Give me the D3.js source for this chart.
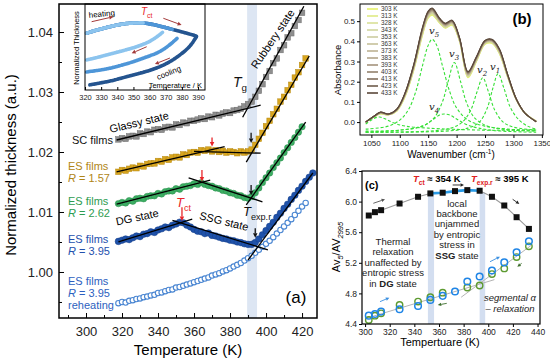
<!DOCTYPE html>
<html>
<head>
<meta charset="utf-8">
<script src="https://cdn.jsdelivr.net/npm/d3@7"></script>
<style>
body { margin: 0; background: #fff; }
svg { display: block; font-family: "Liberation Sans", Arial, sans-serif; }
</style>
</head>
<body>
<svg width="550" height="359"></svg>
<script>
// ----- panel (a): normalized thickness vs temperature -----
const tempA = [318,320,322,324,326,328,330,332,334,336,338,340,342,344,346,348,350,352,354,356,358,360,362,364,366,368,370,372,374,376,378,380,382,384,386,388,390,392,394,396,398,400,402,404,406,408,410,412,414,416,418,420,422,424,426];
const scFilms = [1.0221,1.0223,1.0222,1.0226,1.0227,1.0226,1.0231,1.0230,1.0234,1.0233,1.0237,1.0238,1.0237,1.0241,1.0242,1.0241,1.0246,1.0245,1.0249,1.0248,1.0252,1.0252,1.0254,1.0256,1.0255,1.0259,1.0258,1.0262,1.0261,1.0264,1.0266,1.0265,1.0269,1.0270,1.0272,1.0276,1.0280,1.0284,1.0292,1.0302,1.0313,1.0325,1.0335,1.0348,1.0356,1.0370,1.0378,1.0391,1.0398,1.0410,1.0420,1.0432,null,null,null];
const es157 = [1.0167,1.0170,1.0169,1.0172,1.0174,1.0173,1.0177,1.0176,1.0180,1.0181,1.0181,1.0185,1.0184,1.0188,1.0187,1.0191,1.0192,1.0191,1.0196,1.0195,1.0199,1.0200,1.0199,1.0203,1.0202,1.0204,1.0201,1.0203,1.0200,1.0202,1.0199,1.0201,1.0200,1.0198,1.0201,1.0199,1.0201,1.0204,1.0212,1.0222,1.0232,1.0243,1.0252,1.0263,1.0272,1.0284,1.0292,1.0303,1.0312,1.0324,1.0333,1.0345,1.0356,null,null];
const es262 = [1.0114,1.0116,1.0115,1.0119,1.0118,1.0122,1.0123,1.0122,1.0126,1.0127,1.0127,1.0131,1.0130,1.0134,1.0135,1.0135,1.0139,1.0138,1.0142,1.0143,1.0144,1.0147,1.0146,1.0149,1.0146,1.0144,1.0143,1.0140,1.0139,1.0136,1.0135,1.0132,1.0131,1.0128,1.0127,1.0124,1.0123,1.0126,1.0132,1.0140,1.0149,1.0157,1.0165,1.0174,1.0182,1.0190,1.0199,1.0207,1.0216,1.0224,1.0233,1.0242,null,null,null];
const es395 = [1.0051,1.0053,1.0055,1.0054,1.0057,1.0060,1.0059,1.0063,1.0064,1.0067,1.0066,1.0070,1.0072,1.0075,1.0074,1.0078,1.0080,1.0083,1.0082,1.0078,1.0075,1.0071,1.0068,1.0067,1.0064,1.0065,1.0061,1.0060,1.0058,1.0056,1.0055,1.0053,1.0052,1.0050,1.0049,1.0047,1.0046,1.0046,1.0049,1.0055,1.0062,1.0069,1.0076,1.0083,1.0091,1.0098,1.0106,1.0113,1.0121,1.0128,1.0136,1.0143,1.0151,1.0158,1.0165];
const es395re = [0.9948,0.9950,0.9949,0.9952,0.9953,0.9955,0.9956,0.9958,0.9959,0.9961,0.9962,0.9965,0.9966,0.9968,0.9970,0.9971,0.9974,0.9975,0.9977,0.9979,0.9981,0.9983,0.9985,0.9987,0.9989,0.9991,0.9994,0.9996,0.9998,1.0001,1.0003,1.0006,1.0009,1.0012,1.0015,1.0019,1.0023,1.0027,1.0032,1.0037,1.0042,1.0047,1.0052,1.0058,1.0064,1.0070,1.0076,1.0082,1.0088,1.0095,1.0102,1.0109,1.0115,null,null];
// fit lines [T1, y1, T2, y2]
const fitA = [
  [317,1.0220,397,1.0278],[387,1.0258,421,1.0443],
  [317,1.0167,377,1.0209],[360,1.0201,397,1.0198],[389,1.0183,424,1.0360],
  [317,1.0113,369,1.0153],[357,1.0157,398,1.0117],[389,1.0112,422,1.0250],
  [318,1.0050,359,1.0088],[348,1.0086,401,1.0037],[390,1.0020,426,1.0165]
];
const bandA = [389.5, 395];
const ticksXA = [300,320,340,360,380,400,420];
const ticksYA = [1.00,1.01,1.02,1.03,1.04];
const redArrowsA = [[370,1.0224,370,1.0209],[364.4,1.0170,364.4,1.0151],[353.3,1.0108,353.3,1.0085]];
const blackArrowsA = [[391.7,1.0232,391.7,1.0215],[391.7,1.0145,391.7,1.0128],[394,1.0073,394,1.0057]];

// inset
const insetHeatT = [321,326,332,338,344,350,356,362,368,374,380,386,389];
const insetHeatY = [0.66,0.69,0.72,0.75,0.77,0.78,0.78,0.765,0.735,0.705,0.675,0.645,0.625];
const insetCoolLightT = [368,362,356,350,344,338,332,326,321];
const insetCoolLightY = [0.67,0.58,0.53,0.49,0.46,0.43,0.40,0.37,0.35];
const insetCoolMidT = [377,371,365,359,353,347,341,335,329,321];
const insetCoolMidY = [0.60,0.50,0.43,0.39,0.35,0.31,0.28,0.25,0.23,0.21];
const insetCoolDarkT = [389,386,383,377,371,365,359,353,347,341,335,329,323];
const insetCoolDarkY = [0.62,0.53,0.47,0.38,0.31,0.26,0.22,0.19,0.16,0.13,0.10,0.08,0.06];
const ticksInset = [320,330,340,350,360,370,380,390];

// ----- panel (b): FTIR spectra -----
const waveB = [1040,1055,1066,1080,1095,1110,1125,1140,1150,1157,1170,1180,1192,1205,1220,1235,1250,1262,1275,1290,1305,1320,1340];
const tempLabelsB = ["303 K","313 K","328 K","343 K","353 K","363 K","373 K","383 K","393 K","403 K","413 K","423 K","433 K"];
const colorsB = ["#e6f26c","#dfea84","#d8e096","#d1d69e","#cccca0","#c6c09a","#bdb292","#b2a488","#a4937c","#93816d","#816e5d","#6e5c4c","#5a483a"];
const spectraB = [
  [0.000,0.025,0.040,0.035,0.055,0.130,0.260,0.430,0.515,0.530,0.490,0.465,0.480,0.400,0.220,0.300,0.385,0.390,0.340,0.220,0.110,0.045,0.005],
  [0.000,0.025,0.041,0.035,0.056,0.132,0.263,0.434,0.518,0.533,0.492,0.467,0.482,0.402,0.223,0.302,0.387,0.392,0.342,0.221,0.110,0.045,0.005],
  [0.000,0.026,0.042,0.036,0.057,0.134,0.266,0.437,0.521,0.536,0.494,0.469,0.484,0.404,0.225,0.304,0.389,0.394,0.344,0.223,0.111,0.045,0.004],
  [0.000,0.026,0.043,0.036,0.058,0.136,0.268,0.440,0.524,0.539,0.497,0.471,0.486,0.406,0.228,0.306,0.391,0.396,0.347,0.224,0.111,0.045,0.004],
  [0.000,0.027,0.044,0.037,0.059,0.138,0.271,0.443,0.527,0.542,0.499,0.473,0.488,0.407,0.230,0.308,0.392,0.398,0.349,0.225,0.112,0.045,0.004],
  [0.000,0.027,0.045,0.037,0.060,0.140,0.274,0.447,0.530,0.545,0.501,0.476,0.491,0.409,0.233,0.310,0.394,0.400,0.351,0.227,0.112,0.045,0.004],
  [0.000,0.028,0.045,0.038,0.060,0.141,0.276,0.450,0.533,0.548,0.503,0.478,0.493,0.410,0.235,0.312,0.395,0.401,0.353,0.228,0.113,0.045,0.003],
  [0.000,0.028,0.046,0.038,0.061,0.143,0.279,0.454,0.536,0.551,0.505,0.480,0.495,0.412,0.238,0.315,0.397,0.403,0.355,0.229,0.113,0.045,0.003],
  [0.000,0.029,0.047,0.038,0.062,0.144,0.281,0.457,0.539,0.554,0.507,0.482,0.497,0.414,0.240,0.317,0.399,0.404,0.357,0.230,0.114,0.045,0.003],
  [0.000,0.029,0.048,0.039,0.063,0.146,0.284,0.461,0.542,0.557,0.509,0.484,0.499,0.415,0.243,0.319,0.400,0.406,0.359,0.232,0.114,0.045,0.003],
  [0.000,0.029,0.048,0.039,0.064,0.147,0.286,0.464,0.545,0.560,0.511,0.486,0.501,0.417,0.245,0.321,0.402,0.407,0.361,0.233,0.114,0.045,0.002],
  [0.000,0.030,0.049,0.040,0.064,0.149,0.288,0.467,0.548,0.563,0.513,0.488,0.503,0.418,0.248,0.323,0.404,0.409,0.363,0.234,0.115,0.045,0.002],
  [0.000,0.030,0.050,0.040,0.065,0.150,0.290,0.470,0.550,0.565,0.515,0.490,0.505,0.420,0.250,0.325,0.405,0.410,0.365,0.235,0.115,0.045,0.002]
];
// fitted components [wavenumber, absorbance]
const peakV0 = [[1040,-0.01],[1050,0.01],[1058,0.022],[1065,0.025],[1075,0.015],[1090,-0.005],[1110,-0.02],[1150,-0.03],[1250,-0.04],[1340,-0.04]];
const peakV5 = [[1040,-0.035],[1080,-0.02],[1100,0.01],[1115,0.06],[1128,0.15],[1140,0.28],[1150,0.38],[1157,0.41],[1165,0.38],[1175,0.28],[1188,0.15],[1200,0.07],[1220,0.01],[1250,-0.02],[1290,-0.035],[1340,-0.04]];
const peakV4 = [[1040,-0.05],[1100,-0.04],[1140,-0.02],[1160,0.015],[1170,0.035],[1178,0.04],[1188,0.035],[1200,0.015],[1220,-0.015],[1260,-0.04],[1340,-0.05]];
const peakV3 = [[1040,-0.045],[1100,-0.04],[1140,-0.02],[1160,0.02],[1175,0.10],[1185,0.20],[1196,0.295],[1207,0.20],[1217,0.10],[1232,0.02],[1260,-0.025],[1340,-0.045]];
const peakV2 = [[1040,-0.05],[1150,-0.045],[1190,-0.03],[1210,0.0],[1225,0.06],[1236,0.15],[1246,0.22],[1256,0.15],[1267,0.06],[1282,0.0],[1300,-0.025],[1340,-0.04]];
const peakV1 = [[1040,-0.05],[1180,-0.045],[1220,-0.03],[1240,0.0],[1254,0.07],[1264,0.17],[1273,0.24],[1283,0.17],[1295,0.07],[1310,0.01],[1325,-0.02],[1340,-0.035]];
const ticksXB = [1050,1100,1150,1200,1250,1300,1350];
const ticksYB = [0.0,0.1,0.2,0.3,0.4,0.5];

// ----- panel (c): band ratio -----
const tempC = [303,308,313,328,343,353,363,373,383,393,403,413,423,433];
const ratioBlack = [5.818,5.862,5.888,5.975,6.063,6.107,6.116,6.137,6.150,6.142,6.063,5.949,5.796,5.643];
const ratioBlue = [4.509,4.531,4.562,4.593,4.636,4.715,4.768,4.825,4.956,5.021,5.100,5.205,5.337,5.481];
const ratioGreen = [4.452,4.509,4.540,4.650,4.693,4.750,4.810,null,4.877,4.903,5.052,5.126,5.275,5.415];
const fitC = [[300,4.47,405,4.98],[378,4.75,435,5.43]];
const bandsC = [[351,356],[393,397.5]];
const ticksXC = [300,320,340,360,380,400,420,440];
const ticksYC = [4.4,4.8,5.2,5.6,6.0,6.4];

const svg = d3.select("svg");
const font = '"Liberation Sans", Arial, sans-serif';

function arrow(g, x1, y1, x2, y2, color, w, hl) {
  const a = Math.atan2(y2 - y1, x2 - x1);
  const hw = hl * 0.5;
  const bx = x2 - hl * Math.cos(a), by = y2 - hl * Math.sin(a);
  g.append("line").attr("x1", x1).attr("y1", y1).attr("x2", bx).attr("y2", by)
    .attr("stroke", color).attr("stroke-width", w);
  g.append("path")
    .attr("d", "M" + x2 + "," + y2 + "L" + (bx + hw * Math.sin(a)) + "," + (by - hw * Math.cos(a)) +
      "L" + (bx - hw * Math.sin(a)) + "," + (by + hw * Math.cos(a)) + "Z")
    .attr("fill", color);
}

function subText(g, x, y, main, sub, size, color, rest, weight) {
  const t = g.append("text").attr("x", x).attr("y", y).attr("font-size", size).attr("fill", color);
  if (weight) t.attr("font-weight", weight);
  t.append("tspan").attr("font-style", "italic").text(main);
  t.append("tspan").attr("font-size", size * 0.7).attr("dy", size * 0.3).text(sub);
  if (rest) t.append("tspan").attr("dy", -size * 0.3).attr("fill", "#000").text(rest);
  return t;
}

function styleAxis(g, size) {
  g.attr("font-family", font);
  g.select(".domain").remove();
  g.selectAll("text").attr("font-size", size).attr("fill", "#222");
  g.selectAll("line").attr("stroke", "#000");
}

// ================= panel (a) =================
const xA = d3.scaleLinear().domain([285, 428.3]).range([59, 317]);
const yA = d3.scaleLinear().domain([0.99233, 1.04467]).range([318, 4]);
const gA = svg.append("g");

gA.append("rect").attr("x", xA(bandA[0])).attr("y", 4)
  .attr("width", xA(bandA[1]) - xA(bandA[0])).attr("height", 314).attr("fill", "#dde6f3");

function drawSeries(vals, shape, fill, stroke, size, sw) {
  const pts = tempA.map((t, i) => [t, vals[i]]).filter(d => d[1] != null);
  if (shape === "square") {
    gA.selectAll(null).data(pts).enter().append("rect")
      .attr("x", d => xA(d[0]) - size / 2).attr("y", d => yA(d[1]) - size / 2)
      .attr("width", size).attr("height", size)
      .attr("fill", fill).attr("stroke", stroke).attr("stroke-width", sw);
  } else {
    gA.selectAll(null).data(pts).enter().append("circle")
      .attr("cx", d => xA(d[0])).attr("cy", d => yA(d[1])).attr("r", size)
      .attr("fill", fill).attr("stroke", stroke).attr("stroke-width", sw);
  }
}
drawSeries(es395re, "circle", "#fff", "#4a86d2", 2.7, 1.1);
drawSeries(es395, "circle", "#1f52aa", "#173f88", 3.3, 0.5);
drawSeries(es262, "circle", "#3cae63", "#2b8f4d", 3.2, 0.5);
drawSeries(es157, "square", "#d8a51f", "#b78a12", 5.6, 0.5);
drawSeries(scFilms, "square", "#8e8e8e", "#6f6f6f", 5.6, 0.5);

gA.selectAll(".fit").data(fitA).enter().append("line").attr("class", "fit")
  .attr("x1", d => xA(d[0])).attr("y1", d => yA(d[1]))
  .attr("x2", d => xA(d[2])).attr("y2", d => yA(d[3]))
  .attr("stroke", "#000").attr("stroke-width", 1.3);

redArrowsA.forEach(d => arrow(gA, xA(d[0]), yA(d[1]), xA(d[2]), yA(d[3]), "#e8262a", 1.3, 4.5));
blackArrowsA.forEach(d => arrow(gA, xA(d[0]), yA(d[1]), xA(d[2]), yA(d[3]), "#111", 1.3, 4.5));

// axes (a)
const axA1 = gA.append("g").attr("transform", "translate(0,318)")
  .call(d3.axisBottom(xA).tickValues(ticksXA).tickSize(-5).tickPadding(9).tickFormat(d3.format("d")));
styleAxis(axA1, 13);
const axA2 = gA.append("g").attr("transform", "translate(0,318)")
  .call(d3.axisBottom(xA).tickValues([290,310,330,350,370,390,410]).tickSize(-3).tickFormat(""));
styleAxis(axA2, 13);
const axA3 = gA.append("g").attr("transform", "translate(59,0)")
  .call(d3.axisLeft(yA).tickValues(ticksYA).tickSize(-5).tickPadding(6).tickFormat(d3.format(".2f")));
styleAxis(axA3, 13);
const axA4 = gA.append("g").attr("transform", "translate(59,0)")
  .call(d3.axisLeft(yA).tickValues([0.995,1.005,1.015,1.025,1.035]).tickSize(-3).tickFormat(""));
styleAxis(axA4, 13);

gA.append("text").attr("x", 188).attr("y", 355).attr("text-anchor", "middle")
  .attr("font-size", 15).text("Temperature (K)");
gA.append("text").attr("transform", "translate(16,165) rotate(-90)").attr("text-anchor", "middle")
  .attr("font-size", 15).text("Normalized thickness (a.u.)");

// series labels
function label(lines, x, yc, color) {
  lines.forEach((s, i) => {
    const t = gA.append("text").attr("x", x).attr("y", yc[i] + 4).attr("font-size", 11).attr("fill", color);
    if (s.startsWith("R")) {
      t.append("tspan").attr("font-style", "italic").text("R");
      t.append("tspan").text(s.slice(1));
    } else t.text(s);
  });
}
label(["SC films"], 72, [140], "#111");
label(["ES films", "R = 1.57"], 68, [166, 178], "#b08516");
label(["ES films", "R = 2.62"], 68, [201, 213], "#2e9c50");
label(["ES films", "R = 3.95"], 68, [239, 251], "#2450ad");
label(["ES films", "R = 3.95", "reheating"], 68, [281, 293, 305], "#2d5fc0");

gA.append("text").attr("transform", "translate(140,126) rotate(-13.5)").attr("text-anchor", "middle")
  .attr("font-size", 11).text("Glassy state");
gA.append("text").attr("transform", "translate(276,41) rotate(-56)").attr("text-anchor", "middle")
  .attr("font-size", 11).text("Rubbery state");
gA.append("text").attr("transform", "translate(138,221) rotate(-12)").attr("text-anchor", "middle")
  .attr("font-size", 11).text("DG state");
gA.append("text").attr("transform", "translate(223,225) rotate(14)").attr("text-anchor", "middle")
  .attr("font-size", 11).text("SSG state");
subText(gA, 233, 87, "T", "g", 14, "#111");
subText(gA, 243, 216, "T", "exp.r", 13, "#111");
subText(gA, 176, 207, "T", "ct", 13, "#e8262a");
gA.append("text").attr("x", 296).attr("y", 303).attr("text-anchor", "middle").attr("font-size", 17).text("(a)");

// inset
const xI = d3.scaleLinear().domain([320, 394.3]).range([85, 205]);
const yI = d3.scaleLinear().domain([0, 1]).range([90, 4]);
const gI = gA.append("g");
gI.append("rect").attr("x", 85).attr("y", 4).attr("width", 120).attr("height", 86).attr("fill", "#fff");
const lineI = d3.line().x(d => xI(d[0])).y(d => yI(d[1])).curve(d3.curveBasis);
function insetPath(ts, ys, n, color) {
  const pts = ts.slice(0, n).map((t, i) => [t, ys[i]]);
  gI.append("path").attr("d", lineI(pts)).attr("fill", "none").attr("stroke", color)
    .attr("stroke-width", 3.6).attr("stroke-linecap", "round").attr("stroke-dasharray", "2.2,0.8");
}
insetPath(insetHeatT, insetHeatY, 13, "#24548f");
insetPath(insetHeatT, insetHeatY, 10, "#4e96d8");
insetPath(insetHeatT, insetHeatY, 7, "#8cc4ee");
insetPath(insetCoolDarkT, insetCoolDarkY, 13, "#24548f");
insetPath(insetCoolMidT, insetCoolMidY, 10, "#4e96d8");
insetPath(insetCoolLightT, insetCoolLightY, 9, "#8cc4ee");
arrow(gI, xI(324.1), yI(0.794), xI(337.5), yI(0.852), "#a33a3a", 1, 4);
arrow(gI, xI(368.5), yI(0.834), xI(379.8), yI(0.756), "#a33a3a", 1, 4);
arrow(gI, xI(358.2), yI(0.503), xI(348.9), yI(0.427), "#a33a3a", 1, 4);
arrow(gI, xI(372.6), yI(0.372), xI(363.3), yI(0.302), "#a33a3a", 1, 4);
gI.append("text").attr("transform", "translate(89,18) rotate(-6)").attr("font-size", 8).text("heating");
subText(gI, 141, 15, "T", "ct", 10, "#e8262a");
gI.append("text").attr("transform", "translate(158,80) rotate(-22)").attr("font-size", 8).text("cooling");
gI.append("text").attr("x", 202).attr("y", 88).attr("text-anchor", "end").attr("font-size", 7.5).text("Temperature / K");
gI.append("text").attr("transform", "translate(79,48) rotate(-90)").attr("text-anchor", "middle")
  .attr("font-size", 7.5).text("Normalized Thickness");
const axI = gI.append("g").attr("transform", "translate(0,90)")
  .call(d3.axisBottom(xI).tickValues(ticksInset).tickSize(-3).tickPadding(5).tickFormat(d3.format("d")));
styleAxis(axI, 7.5);
gI.append("rect").attr("x", 85).attr("y", 4).attr("width", 120).attr("height", 86)
  .attr("fill", "none").attr("stroke", "#000").attr("stroke-width", 1);

gA.append("rect").attr("x", 59).attr("y", 4).attr("width", 258).attr("height", 314)
  .attr("fill", "none").attr("stroke", "#000").attr("stroke-width", 1.5);

// ================= panel (b) =================
const xB = d3.scaleLinear().domain([1030, 1352]).range([360, 543]);
const yB = d3.scaleLinear().domain([-0.064, 0.585]).range([135, 4]);
const gB = svg.append("g");
const lineB = d3.line().x(d => xB(d[0])).y(d => yB(d[1])).curve(d3.curveCatmullRom);

spectraB.forEach((row, k) => {
  gB.append("path").attr("d", lineB(waveB.map((w, i) => [w, row[i]])))
    .attr("fill", "none").attr("stroke", colorsB[k]).attr("stroke-width", 1.1);
});
[peakV0, peakV5, peakV4, peakV3, peakV2, peakV1].forEach(p => {
  gB.append("path").attr("d", lineB(p)).attr("fill", "none").attr("stroke", "#36e036")
    .attr("stroke-width", 1.1).attr("stroke-dasharray", "3,2");
});

tempLabelsB.forEach((s, i) => {
  const y = 9 + i * 7;
  gB.append("line").attr("x1", 367).attr("x2", 378).attr("y1", y).attr("y2", y)
    .attr("stroke", colorsB[i]).attr("stroke-width", 1.6);
  gB.append("text").attr("x", 381).attr("y", y + 2.3).attr("font-size", 6.3).attr("fill", "#333").text(s);
});

function nu(x, y, n) {
  const t = gB.append("text").attr("x", x).attr("y", y).attr("font-size", 10)
    .attr("font-family", '"DejaVu Serif", serif').attr("font-style", "italic").attr("fill", "#222");
  t.append("tspan").text("v");
  t.append("tspan").attr("font-size", 7).attr("dy", 2.5).text(n);
}
nu(429, 34, "5");
nu(449, 57, "3");
nu(477, 73, "2");
nu(490, 70, "1");
nu(429, 110, "4");

const axB1 = gB.append("g").attr("transform", "translate(0,135)")
  .call(d3.axisBottom(xB).tickValues(ticksXB).tickSize(3).tickPadding(2).tickFormat(d3.format("d")));
styleAxis(axB1, 8);
const axB2 = gB.append("g").attr("transform", "translate(360,0)")
  .call(d3.axisLeft(yB).tickValues(ticksYB).tickSize(3).tickPadding(2).tickFormat(d3.format(".1f")));
styleAxis(axB2, 8);
gB.append("rect").attr("x", 360).attr("y", 4).attr("width", 183).attr("height", 131)
  .attr("fill", "none").attr("stroke", "#000").attr("stroke-width", 1);
gB.append("text").attr("transform", "translate(341,70) rotate(-90)").attr("text-anchor", "middle")
  .attr("font-size", 9.5).text("Absorbance");
const wl = gB.append("text").attr("x", 451).attr("y", 158).attr("text-anchor", "middle").attr("font-size", 10);
wl.append("tspan").text("Wavenumber (cm");
wl.append("tspan").attr("font-size", 6.5).attr("dy", -4).text("-1");
wl.append("tspan").attr("dy", 4).text(")");
gB.append("text").attr("x", 522).attr("y", 24).attr("text-anchor", "middle")
  .attr("font-size", 15).attr("font-weight", "bold").text("(b)");

// ================= panel (c) =================
const xC = d3.scaleLinear().domain([297.5, 442]).range([362, 540]);
const yC = d3.scaleLinear().domain([4.4, 6.4]).range([324, 171]);
const gC = svg.append("g");

bandsC.forEach(b => {
  gC.append("rect").attr("x", xC(b[0])).attr("y", yC(6.12)).attr("width", xC(b[1]) - xC(b[0]))
    .attr("height", 324 - yC(6.12)).attr("fill", "#d3def0");
});

gC.selectAll(".fitc").data(fitC).enter().append("line")
  .attr("x1", d => xC(d[0])).attr("y1", d => yC(d[1])).attr("x2", d => xC(d[2])).attr("y2", d => yC(d[3]))
  .attr("stroke", "#b4b4b4").attr("stroke-width", 1);

const lineC = d3.line().x(d => xC(d[0])).y(d => yC(d[1]));
const blackPts = tempC.map((t, i) => [t, ratioBlack[i]]);
gC.append("path").attr("d", lineC(blackPts.slice(0, 6))).attr("fill", "none").attr("stroke", "#9a9a9a").attr("stroke-width", 1.1);
gC.append("path").attr("d", lineC(blackPts.slice(9))).attr("fill", "none").attr("stroke", "#9a9a9a").attr("stroke-width", 1.1);
gC.append("path").attr("d", lineC(blackPts.slice(5, 10))).attr("fill", "none").attr("stroke", "#2a9be6").attr("stroke-width", 2.6);

gC.selectAll(".sq").data(blackPts).enter().append("rect")
  .attr("x", d => xC(d[0]) - 3).attr("y", d => yC(d[1]) - 3).attr("width", 6).attr("height", 6).attr("fill", "#111");

const greenPts = tempC.map((t, i) => [t, ratioGreen[i]]).filter(d => d[1] != null);
gC.selectAll(".gc").data(greenPts).enter().append("circle")
  .attr("cx", d => xC(d[0])).attr("cy", d => yC(d[1])).attr("r", 3.2)
  .attr("fill", "none").attr("stroke", "#5d9a30").attr("stroke-width", 1.4);
const bluePts = tempC.map((t, i) => [t, ratioBlue[i]]);
gC.selectAll(".bc").data(bluePts).enter().append("circle")
  .attr("cx", d => xC(d[0])).attr("cy", d => yC(d[1])).attr("r", 3.3)
  .attr("fill", "none").attr("stroke", "#1f85e6").attr("stroke-width", 1.5);

arrow(gC, xC(306.7), yC(5.978), xC(316.2), yC(6.03), "#555", 0.9, 3.5);
arrow(gC, xC(371.1), yC(6.217), xC(380.3), yC(6.217), "#222", 0.9, 3.5);
arrow(gC, xC(419.8), yC(6.03), xC(425.2), yC(5.97), "#222", 0.9, 3.5);
arrow(gC, xC(312.1), yC(4.692), xC(319.7), yC(4.744), "#3a8fe0", 0.9, 3.5);
arrow(gC, xC(366.3), yC(4.67), xC(359), yC(4.648), "#3d6e2c", 0.9, 3.5);
arrow(gC, xC(401.4), yC(5.214), xC(409.5), yC(5.28), "#3a8fe0", 0.9, 3.5);
arrow(gC, xC(427.1), yC(5.193), xC(423.6), yC(5.149), "#3d6e2c", 0.9, 3.5);

const axC1 = gC.append("g").attr("transform", "translate(0,324)")
  .call(d3.axisBottom(xC).tickValues(ticksXC).tickSize(3).tickPadding(2).tickFormat(d3.format("d")));
styleAxis(axC1, 8.5);
const axC2 = gC.append("g").attr("transform", "translate(362,0)")
  .call(d3.axisLeft(yC).tickValues(ticksYC).tickSize(3).tickPadding(2).tickFormat(d3.format(".1f")));
styleAxis(axC2, 8.5);
gC.append("rect").attr("x", 362).attr("y", 171).attr("width", 178).attr("height", 153)
  .attr("fill", "none").attr("stroke", "#000").attr("stroke-width", 1.2);

gC.append("text").attr("x", 440).attr("y", 346).attr("text-anchor", "middle").attr("font-size", 11).text("Tempertuare (K)");
const yl = gC.append("text").attr("transform", "translate(340,247) rotate(-90)").attr("text-anchor", "middle").attr("font-size", 11);
yl.append("tspan").text("Av");
yl.append("tspan").attr("font-size", 7.5).attr("dy", 3).attr("font-style", "italic").text("5");
yl.append("tspan").attr("dy", -3).text("/AV");
yl.append("tspan").attr("font-size", 7.5).attr("dy", 3).attr("font-style", "italic").text("2995");

gC.append("text").attr("x", 365).attr("y", 189).attr("font-size", 11).attr("font-weight", "bold").text("(c)");
subText(gC, 413, 182, "T", "ct", 9.5, "#e02020", " \u2248 354 K", "bold");
subText(gC, 471, 182, "T", "exp.r", 9.5, "#e02020", " \u2248 395 K", "bold");

function block(lines, x, y0, dy, italic) {
  lines.forEach((s, i) => {
    const t = gC.append("text").attr("x", x).attr("y", y0 + i * dy).attr("text-anchor", "middle")
      .attr("font-size", 9.5).attr("fill", "#222");
    if (italic) t.attr("font-style", "italic");
    if (Array.isArray(s)) {
      t.append("tspan").text(s[0]);
      t.append("tspan").attr("font-weight", "bold").text(s[1]);
      t.append("tspan").text(s[2]);
    } else t.text(s);
  });
}
block(["local", "backbone", "unjammed", "by entropic", "stress in", ["", "SSG", " state"]], 457, 206.5, 10.4, false);
block(["Thermal", "relaxation", "unaffected by", "entropic stress", ["in ", "DG", " state"]], 393, 244.5, 10.5, false);
block(["segmental \u03b1", "\u2013 relaxation"], 510, 300.5, 11, true);
</script>
</body>
</html>
